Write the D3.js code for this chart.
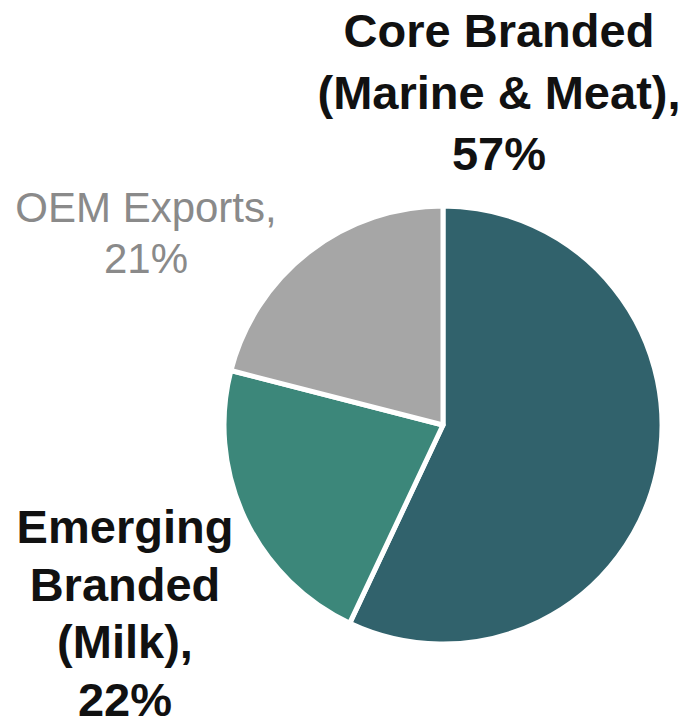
<!DOCTYPE html>
<html>
<head>
<meta charset="utf-8">
<script src="https://cdn.jsdelivr.net/npm/d3@7"></script>
<style>
  html, body { margin: 0; padding: 0; background: #ffffff; }
  svg { display: block; }
</style>
</head>
<body>
<svg id="chart" width="690" height="718"></svg>
<script>
// Revenue mix by segment
const segments = ["Core Branded (Marine & Meat)", "Emerging Branded (Milk)", "OEM Exports"];
const shares = [57, 22, 21];
const sliceColors = ["#31626c", "#3c877a", "#a6a6a6"];
const labelLines = [
  ["Core Branded", "(Marine & Meat),", "57%"],
  ["Emerging", "Branded", "(Milk),", "22%"],
  ["OEM Exports,", "21%"]
];

const svg = d3.select("#chart");
const cx = 443, cy = 425, radius = 219;

const pie = d3.pie().sort(null).value(d => d.value);
const arcs = pie(segments.map((s, i) => ({ name: s, value: shares[i], color: sliceColors[i] })));
const arc = d3.arc().innerRadius(0).outerRadius(radius);

const g = svg.append("g").attr("transform", `translate(${cx},${cy})`);
g.selectAll("path")
  .data(arcs)
  .join("path")
  .attr("d", arc)
  .attr("fill", d => d.data.color)
  .attr("stroke", "#ffffff")
  .attr("stroke-width", 5)
  .attr("stroke-linejoin", "round");

// Label blocks: anchor centre, first baseline, line step, style
const labelStyle = [
  { x: 499, y: 47, step: 61.5, size: 47, weight: "bold", color: "#111111" },
  { x: 125, y: 543, step: 57.5, size: 47, weight: "bold", color: "#111111" },
  { x: 146, y: 222, step: 51, size: 42, weight: "normal", color: "#8a8a8a" }
];

labelLines.forEach((lines, i) => {
  const st = labelStyle[i];
  const t = svg.append("text")
    .attr("text-anchor", "middle")
    .attr("font-family", "'Liberation Sans', Arial, Helvetica, sans-serif")
    .attr("font-size", st.size)
    .attr("font-weight", st.weight)
    .attr("fill", st.color);
  lines.forEach((ln, j) => {
    t.append("tspan").attr("x", st.x).attr("y", st.y + j * st.step).text(ln);
  });
});
</script>
</body>
</html>
